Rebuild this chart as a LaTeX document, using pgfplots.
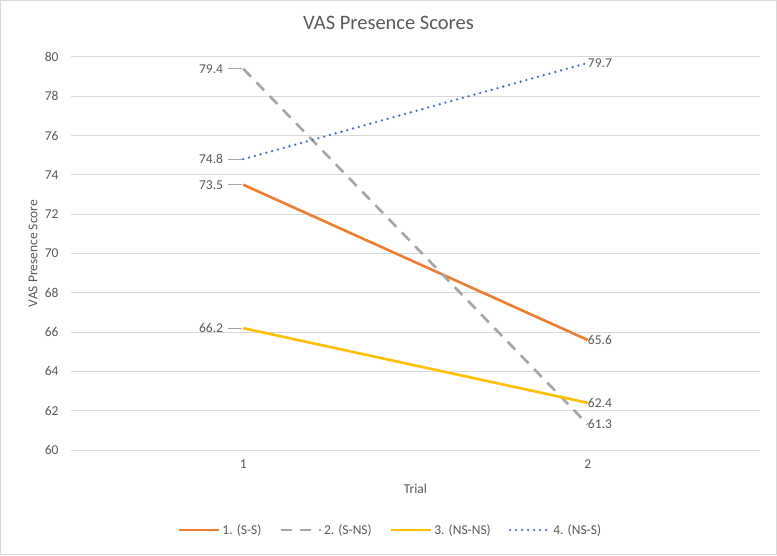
\documentclass[border=0pt]{standalone}
\usepackage{pgfplots}
\pgfplotsset{compat=1.18}
\usepackage{fontspec}
\setmainfont{Carlito}
\definecolor{txt}{HTML}{595959}
\definecolor{grd}{HTML}{D9D9D9}
\definecolor{cOr}{HTML}{ED7D31}
\definecolor{cGy}{HTML}{A5A5A5}
\definecolor{cYe}{HTML}{FFC000}
\definecolor{cBl}{HTML}{4472C4}
\newcommand{\fs}{\fontsize{13.5}{16}\selectfont}
\begin{document}
\begin{tikzpicture}[x=1pt,y=1pt]
\draw[draw=grd, line width=1pt, fill=white] (0.5,0.5) rectangle (776.5,554.5);
\node[txt, font=\fontsize{20.5}{24}\selectfont] at (388.5,532) {VAS Presence Scores};
\begin{axis}[
  at={(71pt,105pt)}, anchor=south west,
  scale only axis, width=689pt, height=393pt,
  xmin=0.5, xmax=2.5, ymin=60, ymax=80,
  ytick={60,62,...,80}, xtick={1,2},
  ymajorgrids, grid style={draw=grd, line width=1pt},
  axis line style={draw=none},
  major tick length=0pt,
  /pgf/number format/assume math mode=true,
  tick label style={txt, font=\fs},
  yticklabel style={anchor=east, xshift=-9pt},
  xticklabel style={anchor=north, yshift=-6pt},
  xlabel={Trial}, ylabel={VAS Presence Score},
  label style={txt, font=\fs},
  xlabel style={at={(axis description cs:0.5,0)}, anchor=center, yshift=-39pt},
  ylabel style={at={(axis description cs:0,0.5)}, anchor=center, yshift=38pt},
  legend columns=4,
  legend style={at={(axis description cs:0.5,0)}, anchor=center, xshift=-25pt, yshift=-80pt, draw=none, fill=none,
    font=\fs, text=txt,
    /tikz/every even column/.append style={column sep=16pt}},
  legend image code/.code={\draw[#1] (0pt,0pt) -- (40pt,0pt);},
  clip=false,
]
\addplot[cOr, line width=2.6pt] coordinates {(1,73.5) (2,65.6)};
\addlegendentry{1. (S-S)}
\addplot[cGy, line width=2.6pt, dash pattern=on 11pt off 8pt] coordinates {(1,79.4) (2,61.3)};
\addlegendentry{2. (S-NS)}
\addplot[cYe, line width=2.6pt] coordinates {(1,66.2) (2,62.4)};
\addlegendentry{3. (NS-NS)}
\addplot[cBl, line width=2.6pt, line cap=round, dash pattern=on 0pt off 6pt] coordinates {(1,74.8) (2,79.7)};
\addlegendentry{4. (NS-S)}
\foreach \v/\t in {79.4/79.4, 74.8/74.8, 73.5/73.5, 66.2/66.2}{
  \edef\tmp{\noexpand\draw[cGy, line width=0.8pt] ([xshift=-15pt]axis cs:1,\v) -- ([xshift=-1pt]axis cs:1,\v);
  \noexpand\node[anchor=east, inner sep=0pt, txt, font=\noexpand\fs] at ([xshift=-20pt]axis cs:1,\v) {\t};}
  \tmp
}
\foreach \v/\t in {65.6/65.6, 61.3/61.3, 62.4/62.4, 79.7/79.7}{
  \edef\tmp{\noexpand\node[anchor=west, inner sep=0pt, txt, font=\noexpand\fs] at ([xshift=0pt]axis cs:2,\v) {\t};}
  \tmp
}
\end{axis}
\end{tikzpicture}
\end{document}
